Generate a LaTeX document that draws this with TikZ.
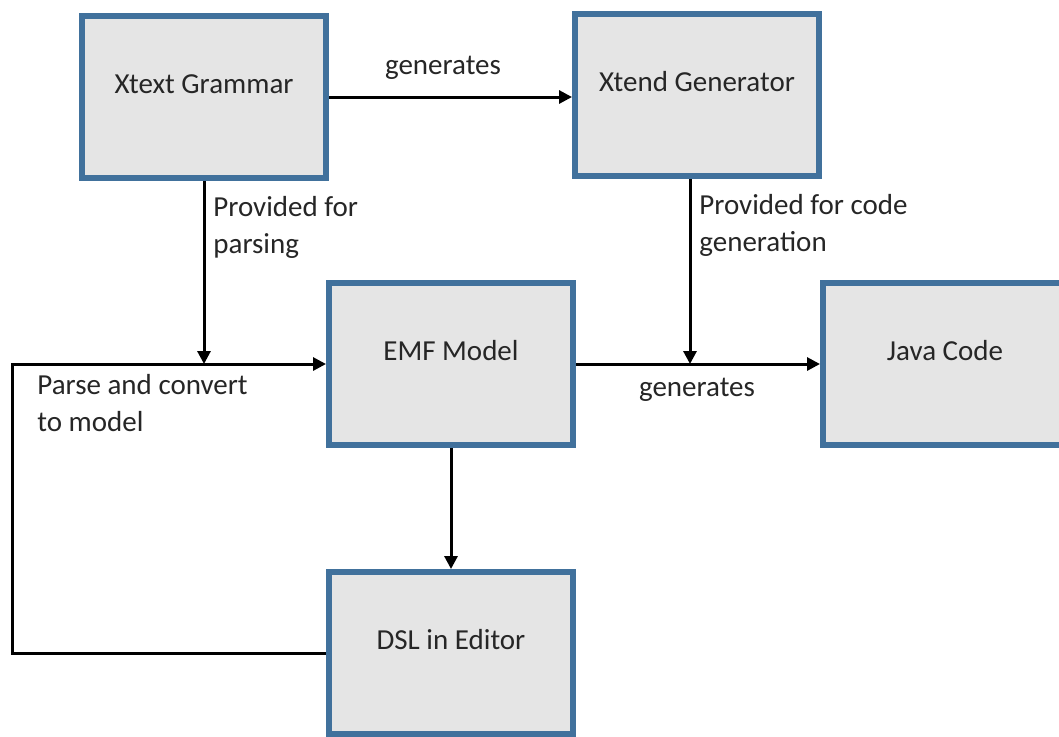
\documentclass[tikz,border=0pt]{standalone}
\usepackage{fontspec}
\setmainfont{Carlito}
\usetikzlibrary{arrows.meta}
\definecolor{boxblue}{HTML}{41719C}
\definecolor{boxgray}{HTML}{E5E5E5}
\definecolor{txtgray}{HTML}{262626}
\begin{document}
\begin{tikzpicture}[x=0.5pt,y=-0.5pt,line cap=butt,line join=miter,
  font=\fontsize{14.5pt}{18.5pt}\selectfont,
  blk/.style={draw=boxblue,fill=boxgray,line width=3pt,minimum width=122pt,
    minimum height=81pt,text height=10pt,text depth=14pt,text=txtgray},
  lbl/.style={text=txtgray,inner sep=0pt,align=left},
  conn/.style={line width=1.5pt,-{Triangle[length=6.5pt,width=6.5pt]}}]
  \path[use as bounding box,clip] (0,0) rectangle (1059,736);
  \node[blk] (xg) at (204,97) {Xtext Grammar};
  \node[blk] (xd) at (697,95) {Xtend Generator};
  \node[blk] (emf) at (451,364) {EMF Model};
  \node[blk] (java) at (945,364) {Java Code};
  \node[blk] (dsl) at (451,653) {DSL in Editor};
  \coordinate (lp) at (12,364);
  \coordinate (xdo) at ([xshift=-3.5pt]xd.south);
  \draw[conn] (xg.east) -- (xd.west |- xg.east);
  \draw[conn] (xg.south) -- (xg.south |- emf.west);
  \draw[conn] (xdo) -- (xdo |- emf.east);
  \draw[conn] (emf.east) -- (java.west);
  \draw[conn] (emf.south) -- (dsl.north);
  \draw[conn] (dsl.west) -| (lp) -- (emf.west);
  \node[lbl] (gen1) at (443,68) {generates};
  \node[lbl,anchor=west] (pfp) at (213,227) {Provided for\\parsing};
  \node[lbl,anchor=west] (pfc) at (699,225) {Provided for code\\generation};
  \node[lbl] (gen2) at (697,390) {generates};
  \node[lbl,anchor=west] (pcm) at (37,403) {Parse and convert\\to model};
\end{tikzpicture}
\end{document}
